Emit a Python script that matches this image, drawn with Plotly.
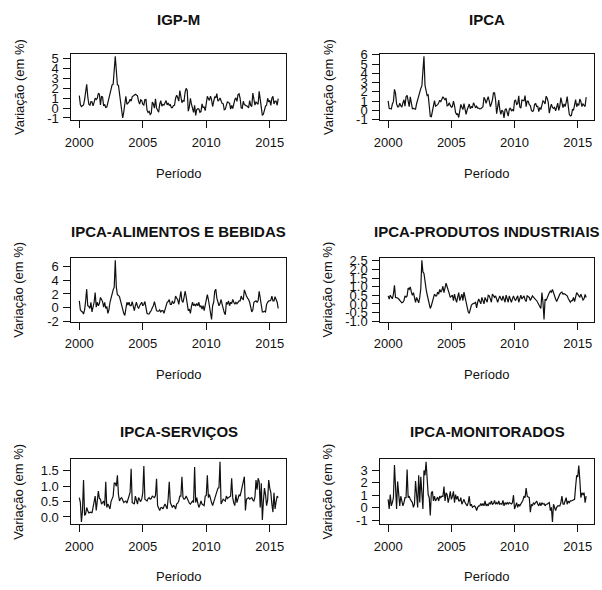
import plotly.graph_objects as go

START_YEAR = 2000
TITLES = ["IGP-M", "IPCA", "IPCA-ALIMENTOS E BEBIDAS", "IPCA-PRODUTOS INDUSTRIAIS",
          "IPCA-SERVIÇOS", "IPCA-MONITORADOS"]
X_LABEL = "Período"
Y_LABEL = "Variação (em %)"
X_TICKS = [2000, 2005, 2010, 2015]

IGPM = [
    1.24, 0.35, 0.15, 0.23, 0.31, 0.85, 1.57, 2.39, 1.16, 0.38, 0.29, 0.63,
    0.62, 0.23, 0.56, 1.00, 0.86, 0.98, 1.48, 1.38, 0.31, 1.18, 1.10, 0.22,
    0.36, 0.06, 0.09, 0.56, 0.83, 1.54, 1.95, 2.32, 2.40, 3.87, 5.19, 3.75,
    2.33, 2.28, 1.53, 0.92, -0.26, -1.00, -0.42, 0.38, 1.18, 0.38, 0.49, 0.61,
    0.88, 0.69, 1.13, 1.21, 1.31, 1.38, 1.31, 1.22, 0.69, 0.39, 0.82, 0.74,
    0.39, 0.30, 0.85, 0.86, -0.22, -0.44, -0.34, -0.65, -0.53, 0.60, 0.40, -0.01,
    0.92, 0.01, -0.23, -0.42, 0.38, 0.75, 0.18, 0.37, 0.29, 0.47, 0.75, 0.32,
    0.50, 0.27, 0.34, 0.04, 0.04, 0.26, 0.28, 0.98, 1.29, 1.05, 0.69, 1.76,
    1.09, 0.53, 0.74, 0.69, 1.61, 1.98, 1.76, -0.32, 0.11, 0.98, 0.38, -0.13,
    -0.44, 0.26, -0.74, -0.15, -0.07, -0.10, -0.43, -0.36, 0.42, 0.05, 0.10, -0.26,
    0.63, 1.18, 0.94, 0.77, 1.19, 0.85, 0.15, 0.77, 1.15, 1.01, 1.45, 0.69,
    0.79, 1.00, 0.62, 0.45, 0.43, -0.18, -0.12, 0.44, 0.65, 0.53, 0.50, -0.12,
    0.25, -0.06, 0.43, 0.85, 1.02, 0.66, 1.34, 1.43, 0.97, 0.02, -0.03, 0.68,
    0.34, 0.29, 0.21, 0.15, 0.00, 0.75, 0.26, 0.15, 1.50, 0.86, 0.29, 0.60,
    0.48, 0.38, 1.67, 0.78, -0.13, -0.74, -0.61, -0.27, 0.20, 0.28, 0.98, 0.62,
    0.76, 0.27, 0.98, 1.17, 0.41, 0.67, 0.69, 0.28, 0.95,
]

IPCA = [
    1.02, 0.19, 0.18, 0.13, 0.67, 0.93, 2.26, 1.82, 0.69, 0.37, 0.39, 0.76,
    0.49, 0.34, 0.80, 1.13, 0.44, 1.46, 1.62, 0.90, 0.38, 1.45, 0.76, 0.18,
    0.19, 0.18, 0.11, 0.70, 1.11, 1.74, 2.05, 2.36, 2.64, 4.21, 5.84, 2.70,
    2.17, 1.59, 1.66, 0.41, -0.67, -0.70, -0.20, 0.62, 1.05, 0.44, 0.48, 0.60,
    0.80, 1.08, 0.93, 1.15, 1.46, 1.29, 1.14, 1.31, 0.48, 0.53, 0.82, 0.52,
    0.33, 0.40, 0.99, 0.51, -0.25, -0.45, -0.40, -0.79, -0.13, 0.63, 0.33, 0.07,
    0.72, -0.06, -0.45, 0.02, 0.38, 0.67, 0.17, 0.41, 0.24, 0.81, 0.57, 0.26,
    0.43, 0.23, 0.22, 0.14, 0.16, 0.26, 0.37, 1.39, 1.17, 0.75, 1.05, 1.47,
    0.99, 0.38, 0.70, 1.12, 1.88, 1.89, 1.12, -0.38, 0.36, 1.09, 0.07, -0.44,
    0.01, -0.13, -0.84, 0.04, 0.18, -0.32, -0.64, 0.09, 0.25, -0.04, 0.07, -0.11,
    1.01, 1.09, 0.63, 0.72, 1.57, 0.34, 0.22, 1.10, 1.10, 1.03, 1.58, 0.38,
    0.98, 0.96, 0.61, 0.50, 0.01, -0.13, -0.05, 0.61, 0.75, 0.40, 0.43, -0.16,
    0.30, 0.07, 0.56, 1.02, 0.91, 0.69, 1.52, 1.29, 0.88, -0.31, 0.25, 0.66,
    0.31, 0.20, 0.31, -0.06, 0.32, 0.76, -0.01, 0.46, 1.36, 0.63, 0.28, 0.69,
    0.40, 0.85, 1.48, 0.45, -0.45, -0.63, -0.55, 0.06, 0.02, 0.59, 1.14, 0.38,
    0.67, 0.53, 1.21, 0.92, 0.40, 0.68, 0.58, 0.40, 1.42,
]

ALIMENTOS = [
    1.0, -0.3, -0.5, -0.6, -0.9, -0.3, 1.0, 2.7, 0.3, 0.2, -0.1, 0.8,
    -0.6, 0.2, 0.8, 2.2, 0.1, 0.8, 0.3, 0.6, 1.5, 1.2, 0.9, 0.1,
    0.8, -0.1, 0.2, -0.8, -0.3, 0.8, 1.5, 2.1, 2.6, 3.0, 6.9, 3.0,
    1.9, 1.8, 1.6, 1.0, 0.3, -0.4, -0.8, -1.1, 0.2, 0.8, 0.4, 0.8,
    0.3, 0.3, 0.9, 0.4, -0.4, 0.3, 0.8, 0.2, -0.1, 0.3, 0.6, 0.8,
    0.3, 0.5, 0.9, 0.1, -0.8, -0.9, -0.9, -0.6, -0.4, 0.0, 0.3, 0.9,
    0.4, -0.4, -0.5, -0.5, -0.3, -0.6, -0.4, -0.4, -0.8, -0.3, 0.1, 0.8,
    0.9, 1.2, 0.5, 0.5, 1.0, 0.6, 0.8, 1.7, 1.4, 1.2, 0.5, 1.5,
    2.4, 1.0, 0.8, 1.5, 2.4, 1.6, 0.8, -0.4, -0.2, -0.8, 0.2, 0.8,
    0.3, 0.5, 0.3, 0.6, 0.3, 0.8, 0.1, 0.3, -0.2, 0.3, -0.4, 0.3,
    0.8, 1.9, 1.2, 0.2, -0.8, -1.7, 0.3, 0.8, 2.4, 2.7, 1.4, 0.8,
    0.3, 0.6, 1.2, 0.5, -0.4, -0.7, -1.0, 0.8, 0.5, 1.0, 0.3, 0.8,
    0.6, 1.2, 0.8, 0.5, 0.8, 0.6, 0.8, 1.0, 1.0, 1.7, 1.3, 1.2,
    2.6, 2.0, 1.7, 1.4, 1.2, 0.8, -0.1, -0.6, -0.3, 0.8, 0.9, 1.0,
    0.8, 1.0, 2.4, 1.5, 0.5, -0.6, -0.6, -0.5, -0.6, 0.5, 0.8, 1.0,
    1.0, 1.1, 1.7, 1.0, 1.0, 1.6, 1.2, 0.8, -0.1,
]

INDUSTRIAIS = [
    0.47, 0.29, 0.51, 0.35, 0.30, 0.57, 1.08, 0.38, 0.38, 0.35, 0.29, 0.20,
    0.14, 0.07, 0.10, 0.20, 0.47, 0.40, 0.47, 0.93, 0.85, 0.99, 0.70, 0.51,
    0.66, 0.30, 0.10, 0.38, 0.20, 0.07, 0.38, 0.90, 2.54, 1.86, 1.77, 1.20,
    0.88, 0.55, 0.29, 0.00, -0.26, -0.10, 0.10, 0.35, 0.57, 0.47, 0.47, 0.69,
    0.57, 0.84, 0.69, 0.80, 1.03, 0.66, 0.90, 1.21, 1.00, 0.84, 0.60, 0.38,
    0.45, 0.51, 0.20, 0.57, 0.30, 0.10, 0.40, 0.66, 0.20, 0.40, 0.57, 0.20,
    0.69, 0.40, 0.10, -0.10, -0.45, -0.54, -0.30, -0.08, 0.00, 0.01, 0.05, 0.10,
    -0.23, 0.10, 0.29, 0.15, 0.01, 0.38, 0.10, 0.01, 0.38, 0.20, 0.10, 0.51,
    0.47, 0.30, 0.10, 0.57, 0.45, 0.38, 0.47, 0.30, 0.10, 0.30, 0.47, 0.30,
    0.20, 0.47, 0.30, 0.10, 0.51, 0.25, 0.10, 0.47, 0.30, 0.10, 0.30, 0.47,
    0.29, 0.20, 0.35, 0.47, 0.10, 0.30, 0.51, 0.29, 0.40, 0.47, 0.25, 0.14,
    0.47, 0.40, 0.38, 0.20, 0.35, 0.47, 0.40, 0.29, 0.25, 0.20, 0.10, -0.08,
    -0.15, -0.26, 0.66, 0.10, -0.90, 0.29, 0.20, 0.40, 0.57, 0.65, 0.75, 0.69,
    0.84, 0.60, 0.47, 0.29, 0.14, 0.30, 0.47, 0.57, 0.65, 0.69, 0.57, 0.60,
    0.57, 0.50, 0.47, 0.32, 0.20, 0.10, 0.20, 0.20, 0.38, 0.14, 0.40, 0.66,
    0.57, 0.45, 0.38, 0.57, 0.40, 0.23, 0.30, 0.55, 0.38,
]

SERVICOS = [
    0.63, 0.47, -0.16, 0.20, 1.20, 0.05, 0.10, 0.31, 0.20, 0.13, 0.15, 0.16,
    0.13, 0.30, 0.42, 0.68, 0.21, 0.52, 0.84, 0.60, 0.58, 0.42, 0.50, 0.52,
    0.37, 1.15, 0.31, 0.42, 0.35, 0.26, 0.50, 0.63, 0.68, 1.10, 1.10, 1.00,
    1.36, 0.73, 0.52, 0.60, 0.63, 0.55, 0.47, 0.50, 0.52, 0.45, 0.60, 0.68,
    0.80, 1.57, 0.47, 0.45, 0.42, 0.68, 0.50, 0.42, 0.63, 0.55, 0.50, 0.58,
    0.79, 1.66, 0.58, 0.55, 0.52, 0.60, 0.63, 0.58, 0.60, 0.68, 0.65, 0.63,
    0.70, 1.24, 0.37, 0.31, 0.21, 0.30, 0.31, 0.26, 0.35, 0.42, 0.35, 0.26,
    0.60, 1.15, 0.47, 0.40, 0.31, 0.37, 0.35, 0.26, 0.42, 0.45, 0.52, 0.68,
    0.68, 1.31, 0.63, 0.58, 0.60, 0.68, 0.60, 0.52, 0.45, 0.42, 0.50, 0.52,
    0.47, 1.63, 0.47, 0.63, 0.45, 0.31, 0.40, 0.52, 0.42, 0.40, 0.37, 0.68,
    0.70, 1.36, 0.63, 0.73, 0.55, 0.47, 0.37, 0.50, 0.63, 0.73, 0.80, 0.94,
    0.95, 1.80, 0.42, 0.50, 0.58, 0.55, 0.52, 0.68, 0.60, 0.63, 0.65, 0.68,
    1.26, 0.63, 0.45, 0.37, 0.73, 0.47, 0.60, 0.73, 0.68, 0.84, 1.00, 1.15,
    1.31, 0.21, 0.58, 0.60, 0.63, 0.58, 0.60, 0.63, 0.55, 0.52, 0.65, 1.20,
    0.89, 1.26, 1.15, 0.31, 1.10, -0.10, 0.52, 0.94, 0.73, 0.37, 0.55, 1.20,
    0.94, 0.80, 0.42, 0.16, 0.79, 0.26, 0.50, 0.68, 0.63,
]

MONITORADOS = [
    0.67, -0.10, 1.05, 0.15, 0.41, 0.80, 3.41, 0.80, -0.10, 2.08, 0.60, 0.15,
    0.92, 0.50, 0.15, 0.41, 0.80, 0.80, 3.05, 0.80, 0.92, 0.67, 0.50, 0.41,
    0.03, 0.30, 2.13, 1.31, 0.03, 2.59, 0.41, 2.46, 0.67, -0.10, 2.97, 2.59,
    3.67, 2.33, 1.05, 0.80, -0.62, 1.18, 1.31, 0.54, 0.92, 0.54, 0.70, 0.85,
    0.54, 0.92, 0.80, 0.92, 0.90, 1.69, 0.54, 1.18, 1.05, 0.41, 0.80, 1.31,
    0.67, 0.90, 1.31, 0.41, 1.05, 0.67, 0.92, 0.54, 0.54, 0.80, 0.28, 0.50,
    0.67, 0.41, 0.28, 0.15, 0.40, 0.92, 0.15, 0.28, 0.03, 0.10, 0.15, 0.03,
    -0.23, 0.03, 0.15, 0.15, 0.33, 0.15, 0.33, 0.15, 0.54, 0.15, 0.30, 0.15,
    0.41, 0.28, 0.54, 0.28, 0.33, 0.59, 0.28, 0.41, 0.28, 0.54, 0.28, 0.33,
    0.28, 0.59, 0.15, 0.41, 0.28, 0.41, 0.30, 0.41, 0.35, 0.30, 0.40, 1.00,
    -0.10, 0.28, 0.41, 0.03, 0.28, 0.15, 0.30, 0.41, 0.60, 0.92, 0.80, 1.56,
    0.92, 0.85, 0.80, -0.36, 0.28, 0.15, 0.41, 0.28, 0.40, 0.54, 0.30, 0.15,
    0.41, 0.15, 0.41, 0.28, 0.33, 0.15, 0.28, 0.28, 0.35, 0.41, -0.23, 0.03,
    -1.13, 0.28, 0.03, -0.23, 0.03, 0.15, 0.15, 0.15, 0.41, 0.92, 0.30, 0.28,
    0.54, 0.80, 0.28, 0.54, 0.41, 0.54, 0.54, 0.60, 0.67, 0.67, 1.69, 2.59,
    2.46, 3.36, 2.20, 0.80, 1.18, 1.05, 1.20, 0.41, 0.92,
]

SERIES = [IGPM, IPCA, ALIMENTOS, INDUSTRIAIS, SERVICOS, MONITORADOS]

Y_TICKS = [
    [-1, 0, 1, 2, 3, 4, 5],
    [-1, 0, 1, 2, 3, 4, 5, 6],
    [-2, 0, 2, 4, 6],
    [-1.0, -0.5, 0.0, 0.5, 1.0, 1.5, 2.0, 2.5],
    [0.0, 0.5, 1.0, 1.5],
    [-1, 0, 1, 2, 3],
]
Y_TICK_TEXT = [
    ["-1", "0", "1", "2", "3", "4", "5"],
    ["-1", "0", "1", "2", "3", "4", "5", "6"],
    ["-2", "0", "2", "4", "6"],
    ["-1.0", "-0.5", "0.0", "0.5", "1.0", "1.5", "2.0", "2.5"],
    ["0.0", "0.5", "1.0", "1.5"],
    ["-1", "0", "1", "2", "3"],
]

# ---- layout (pixels) ----
W, H = 602, 590
COL_X = [(66, 283), (378, 594)]
ROW_Y = [(49, 117), (257.5, 323), (463.5, 530)]
TITLE_Y = [14, 231, 435]
XLAB_Y = [171, 377, 583]
YLAB_X = [13, 325]
FONT = "Liberation Sans, Arial, Helvetica, sans-serif"
INK = "#111111"


def px(x):
    return x / W


def py(y):
    return 1 - y / H


def r_range(lo, hi):
    d = hi - lo
    return [lo - 0.04 * d, hi + 0.04 * d]


fig = go.Figure()
annotations = []
layout = {}

for k, vals in enumerate(SERIES):
    row, col = divmod(k, 2)
    n = k + 1
    xs = [START_YEAR + i / 12 for i in range(len(vals))]
    xname = "x" if n == 1 else f"x{n}"
    yname = "y" if n == 1 else f"y{n}"
    fig.add_trace(go.Scatter(x=xs, y=vals, mode="lines", xaxis=xname, yaxis=yname,
                             line=dict(color=INK, width=1.2), showlegend=False,
                             hoverinfo="skip"))
    x0, x1 = COL_X[col]
    y0, y1 = ROW_Y[row]
    common = dict(showline=True, mirror=True, linecolor=INK, linewidth=1,
                  ticks="outside", ticklen=7, tickwidth=1, tickcolor=INK,
                  showgrid=False, zeroline=False,
                  tickfont=dict(family=FONT, size=13, color=INK))
    layout["xaxis" if n == 1 else f"xaxis{n}"] = dict(
        domain=[px(x0), px(x1)], anchor=yname,
        range=r_range(xs[0], xs[-1]), tickmode="array", tickvals=X_TICKS,
        ticktext=[str(t) for t in X_TICKS], ticklabelstandoff=3, **common)
    layout["yaxis" if n == 1 else f"yaxis{n}"] = dict(
        domain=[py(y1), py(y0)], anchor=xname,
        range=r_range(min(vals), max(vals)), tickmode="array",
        tickvals=Y_TICKS[k], ticktext=Y_TICK_TEXT[k], ticklabelstandoff=2, **common)

    cx = (x0 + x1) / 2
    annotations.append(dict(text=f"<b>{TITLES[k]}</b>", x=px(cx), y=py(TITLE_Y[row]),
                            xref="paper", yref="paper", xanchor="center", yanchor="middle",
                            showarrow=False, font=dict(family=FONT, size=15, color=INK)))
    annotations.append(dict(text=X_LABEL, x=px(cx), y=py(XLAB_Y[row]),
                            xref="paper", yref="paper", xanchor="center", yanchor="middle",
                            showarrow=False, font=dict(family=FONT, size=13, color=INK)))
    annotations.append(dict(text=Y_LABEL, x=px(YLAB_X[col]), y=py((y0 + y1) / 2),
                            xref="paper", yref="paper", xanchor="center", yanchor="middle",
                            textangle=-90, showarrow=False,
                            font=dict(family=FONT, size=13, color=INK)))

fig.update_layout(width=W, height=H, margin=dict(l=0, r=0, t=0, b=0),
                  paper_bgcolor="white", plot_bgcolor="white",
                  annotations=annotations, **layout)

fig.write_html("out.html", config={"displayModeBar": False, "staticPlot": True},
               post_script="document.body.style.margin='0px';"
                           "document.body.style.overflow='hidden';")
